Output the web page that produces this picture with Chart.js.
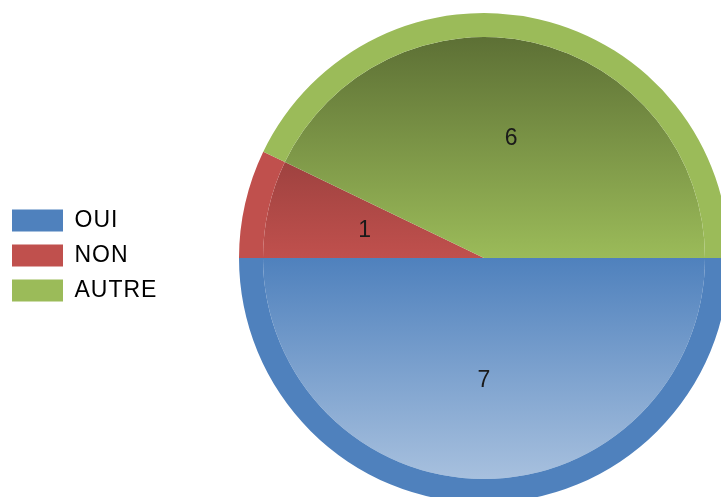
<!DOCTYPE html>
<html>
<head>
<meta charset="utf-8">
<script src="https://cdn.jsdelivr.net/npm/chart.js@4"></script>
<style>
  html, body { margin: 0; padding: 0; background: #ffffff; }
  body { width: 721px; height: 497px; overflow: hidden; position: relative; }
  #wrap { position: absolute; left: 0; top: 0; width: 729px; height: 516px; }
</style>
</head>
<body>
<div id="wrap"><canvas id="c" width="729" height="516"></canvas></div>
<script>
const categories = ['OUI', 'NON', 'AUTRE'];
const values = [7, 1, 6];
const baseColors = ['#4F81BD', '#C0504D', '#9BBB59'];

function hexToRgb(h) {
  const n = parseInt(h.slice(1), 16);
  return [(n >> 16) & 255, (n >> 8) & 255, n & 255];
}
function mix(hex, target, t) {
  const c = hexToRgb(hex);
  const r = c.map((v, i) => Math.round(v + (target[i] - v) * t));
  return 'rgb(' + r.join(',') + ')';
}

const RING = 24, INNER = 221;

function innerGradient(context) {
  const chart = context.chart;
  const area = chart.chartArea;
  const base = baseColors[context.dataIndex];
  if (!area) return base;
  const cy = (area.top + area.bottom) / 2;
  const R = Math.min(area.right - area.left, area.bottom - area.top) / 2;
  const ri = R * INNER / (INNER + RING);
  const g = chart.ctx.createLinearGradient(0, cy - ri, 0, cy + ri);
  g.addColorStop(0, mix(base, [0, 0, 0], 0.40));
  g.addColorStop(0.5, base);
  g.addColorStop(1, mix(base, [255, 255, 255], 0.50));
  return g;
}

const legendWidthPlugin = {
  id: 'legendWidth',
  beforeLayout(chart) {
    const lg = chart.legend;
    if (lg && !lg._patched) {
      const orig = lg.fit;
      lg.fit = function () { orig.call(this); this.width = 239; };
      lg._patched = true;
    }
  },
  afterLayout(chart) {
    const lg = chart.legend;
    if (lg) { lg.bottom -= 5; lg.height -= 5; }
  },
  beforeDraw(chart) {
    if ('letterSpacing' in chart.ctx) chart.ctx.letterSpacing = '1px';
  },
  beforeDatasetsDraw(chart) {
    if ('letterSpacing' in chart.ctx) chart.ctx.letterSpacing = '0px';
  }
};

const valueLabels = {
  id: 'valueLabels',
  afterDatasetsDraw(chart) {
    const ring = chart.getDatasetMeta(0).data;
    const ctx = chart.ctx;
    ctx.save();
    if ('letterSpacing' in ctx) ctx.letterSpacing = '0px';
    ctx.font = '23px "Liberation Sans", Arial, sans-serif';
    ctx.fillStyle = '#1a1a1a';
    ctx.textAlign = 'center';
    ctx.textBaseline = 'middle';
    ring.forEach((arc, i) => {
      const mid = (arc.startAngle + arc.endAngle) / 2;
      const r = arc.outerRadius * 0.5;
      ctx.fillText(String(values[i]), arc.x + Math.cos(mid) * r, arc.y + Math.sin(mid) * r);
    });
    ctx.restore();
  }
};

new Chart(document.getElementById('c'), {
  type: 'pie',
  data: {
    labels: categories,
    datasets: [
      {
        data: values,
        backgroundColor: baseColors,
        borderWidth: 0,
        weight: RING
      },
      {
        data: values,
        backgroundColor: innerGradient,
        borderWidth: 0,
        weight: INNER
      }
    ]
  },
  options: {
    responsive: false,
    animation: false,
    events: [],
    rotation: 90,
    layout: { padding: 0 },
    plugins: {
      tooltip: { enabled: false },
      legend: {
        position: 'left',
        align: 'center',
        labels: {
          boxWidth: 51,
          boxHeight: 22,
          padding: 12,
          color: '#000000',
          font: { family: '"Liberation Sans", Arial, sans-serif', size: 23 }
        }
      }
    }
  },
  plugins: [legendWidthPlugin, valueLabels]
});
</script>
</body>
</html>
